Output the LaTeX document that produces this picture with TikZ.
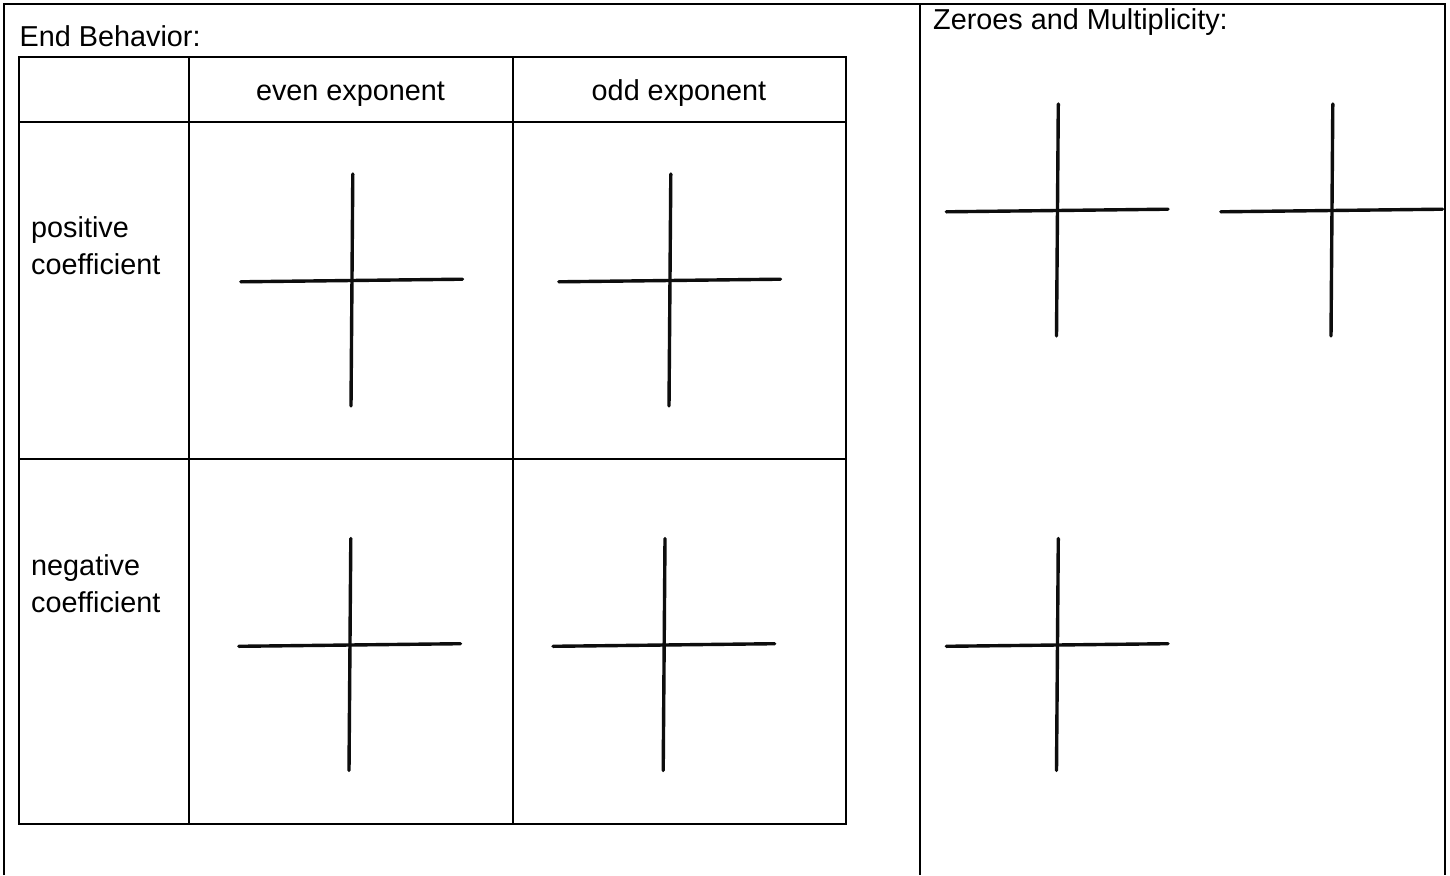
\documentclass[tikz,border=0pt]{standalone}
\usepackage{fontspec}
\setmainfont{Liberation Sans}
\begin{document}
\begin{tikzpicture}[x=1pt,y=-1pt,
  frameline/.style={line width=2pt,black},
  gridline/.style={line width=2pt,black},
  axisline/.style={line width=3.4pt,black!95,line cap=round},
  lbl/.style={inner sep=0pt,font=\fontsize{28.8}{36.7}\selectfont},
  pics/axes/.style={code={
    \draw[axisline] (-111.7,1.3) -- (110,-1.3);
    \draw[axisline] (0.3,-106.5) -- (-1.5,125.5);
  }}]
\useasboundingbox (0,0) rectangle (1450,875);
\fill[white] (0,0) rectangle (1450,875);
% outer frame
\draw[frameline] (4,875) -- (4,4) -- (1445,4) -- (1445,875);
\draw[frameline] (920,4) -- (920,875);
% table
\draw[gridline] (19,57) rectangle (846,824);
\draw[gridline] (19,122) -- (846,122);
\draw[gridline] (19,459) -- (846,459);
\draw[gridline] (189,57) -- (189,824);
\draw[gridline] (513,57) -- (513,824);
% texts
\node[lbl,anchor=base west] (eb) at (19.5,47) {End Behavior:};
\node[lbl,anchor=base west] (zm) at (933,30) {Zeroes and Multiplicity:};
\node[lbl,anchor=base] (even) at (350.5,100) {even exponent};
\node[lbl,anchor=base] (odd) at (679,100) {odd exponent};
\node[lbl,anchor=base west,align=left] (pos) at (31,274) {positive\\coefficient};
\node[lbl,anchor=base west,align=left] (neg) at (31,612.5) {negative\\coefficient};
% axes
\coordinate (c1) at (352.5,280.5);
\coordinate (c2) at (670.5,280.5);
\coordinate (c3) at (350.5,645);
\coordinate (c4) at (664.7,645);
\coordinate (c5) at (1058,210.5);
\coordinate (c6) at (1332.5,210.5);
\coordinate (c7) at (1058,645);
\foreach \c in {c1,c2,c3,c4,c5,c7} \pic at (\c) {axes};
\begin{scope}
\clip (921,0) rectangle (1444,875);
\pic at (c6) {axes};
\end{scope}
\end{tikzpicture}
\end{document}
